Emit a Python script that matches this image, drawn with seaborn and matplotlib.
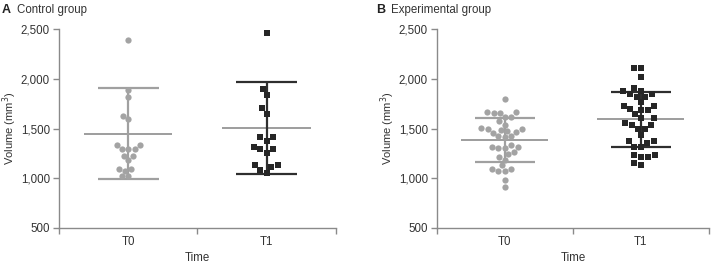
import pandas as pd
import matplotlib
matplotlib.use('Agg')
import matplotlib.pyplot as plt
import seaborn as sns

times = ['T0', 'T1']

# control group volumes (mm3)
ctrl_t0 = [2390, 1890, 1815, 1630, 1595, 1330, 1330, 1290, 1290, 1290,
           1227, 1227, 1183, 1097, 1097, 1077, 1023, 1023]
ctrl_t1 = [2460, 1894, 1834, 1703, 1646, 1415, 1415, 1378, 1318, 1290,
           1290, 1254, 1133, 1133, 1110, 1083, 1053]

# experimental group volumes (mm3)
exp_t0 = [1800, 1670, 1660, 1660, 1665, 1620, 1615, 1575, 1540, 1505,
          1490, 1490, 1485, 1470, 1465, 1450, 1425, 1420, 1410, 1330,
          1310, 1310, 1305, 1300, 1260, 1240, 1215, 1185, 1130, 1095,
          1090, 1075, 1075, 985, 915]
exp_t1 = [2105, 2105, 2021, 1907, 1877, 1877, 1847, 1847, 1820, 1820,
          1763, 1730, 1730, 1696, 1683, 1683, 1643, 1603, 1603, 1552,
          1540, 1540, 1495, 1495, 1432, 1374, 1374, 1357, 1318, 1318,
          1231, 1218, 1218, 1231, 1157, 1130]

# mean and SD
ctrl_mean = [1448, 1505]
ctrl_sd = [456, 463]
exp_mean = [1381, 1592]
exp_sd = [221, 277]

panels = [
    ('A', 'Control group', ctrl_t0, ctrl_t1, ctrl_mean, ctrl_sd),
    ('B', 'Experimental group', exp_t0, exp_t1, exp_mean, exp_sd),
]

pt_col = ['#a3a3a3', '#262626']
bar_col = ['#a0a0a0', '#2e2e2e']
mean_col = ['#8c8c8c', '#8c8c8c']
markers = ['o', 's']
sizes = [4.5, 5.0]
spine_col = '#8a8a8a'
text_col = '#333333'
fs = 8.3

sns.set_style('white')
plt.rcParams['font.family'] = ['Liberation Sans', 'DejaVu Sans']

fig = plt.figure(figsize=(7.17, 2.66), dpi=100)
ax_pos = [[0.0823, 0.1429, 0.386, 0.748], [0.6095, 0.1429, 0.379, 0.748]]

for i, (letter, title, t0, t1, mean, sd) in enumerate(panels):
    ax = fig.add_axes(ax_pos[i])
    df = pd.DataFrame({'Time': ['T0'] * len(t0) + ['T1'] * len(t1),
                       'Volume': t0 + t1})
    for j, t in enumerate(times):
        sns.swarmplot(data=df[df['Time'] == t], x='Time', y='Volume',
                      order=times, color=pt_col[j], marker=markers[j],
                      size=sizes[j], linewidth=0, ax=ax, zorder=3)
        ax.hlines(mean[j], j - 0.32, j + 0.32, color=mean_col[j], lw=1.2, zorder=2)
        ax.hlines([mean[j] - sd[j], mean[j] + sd[j]], j - 0.22, j + 0.22,
                  color=bar_col[j], lw=1.6, zorder=2)
        ax.vlines(j, mean[j] - sd[j], mean[j] + sd[j], color=bar_col[j],
                  lw=1.6, zorder=2)

    ax.set_xlim(-0.5, 1.5)
    ax.set_ylim(500, 2500)
    ax.set_yticks([500, 1000, 1500, 2000, 2500])
    ax.set_yticklabels(['500', '1,000', '1,500', '2,000', '2,500'])
    ax.set_xticks([0, 1])
    ax.set_xticklabels(times)
    ax.set_xticks([-0.5, 0.5, 1.5], minor=True)
    ax.tick_params(axis='x', which='major', length=0, pad=6,
                   labelsize=fs, labelcolor=text_col)
    ax.tick_params(axis='x', which='minor', length=4, width=1,
                   color=spine_col, direction='out')
    ax.tick_params(axis='y', length=4.5, width=1, color=spine_col,
                   direction='out', labelsize=fs, labelcolor=text_col, pad=2)
    ax.xaxis.set_ticks_position('bottom')
    ax.yaxis.set_ticks_position('left')
    sns.despine(ax=ax)
    for s in ['left', 'bottom']:
        ax.spines[s].set_color(spine_col)
        ax.spines[s].set_linewidth(1)
    ax.set_xlabel('Time', fontsize=fs, color=text_col, labelpad=3)
    ax.set_ylabel('Volume (mm$^3$)', fontsize=8, color=text_col, labelpad=1.5)

    lx = 0.002 if i == 0 else 0.524
    fig.text(lx, 0.962, letter, fontsize=9, fontweight='bold',
             color='#222222', va='center')
    fig.text(lx + 0.022, 0.962, title, fontsize=fs, color=text_col,
             va='center')

fig.savefig('out.png', dpi=100)
